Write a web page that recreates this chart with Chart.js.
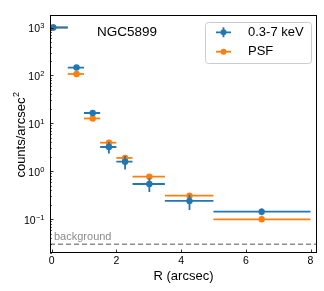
<!DOCTYPE html>
<html>
<head>
<meta charset="utf-8">
<script src="https://cdn.jsdelivr.net/npm/chart.js@4.4.0/dist/chart.umd.min.js"></script>
<style>
html, body { margin: 0; padding: 0; background: #ffffff; }
#wrap { width: 324px; height: 291px; }
</style>
</head>
<body>
<div id="wrap"><canvas id="profileChart"></canvas></div>
<script>
// Radial surface brightness profile, NGC5899

// bins (arcsec)
const radius = [0.05, 0.77, 1.27, 1.77, 2.27, 3.02, 4.26, 6.49];
const binLo = [0, 0.5, 1.0, 1.5, 2.0, 2.5, 3.5, 5.0];
const binHi = [0.5, 1.0, 1.5, 2.0, 2.5, 3.5, 5.0, 8.0];

// counts/arcsec^2
const counts = [1000, 146, 16.4, 3.2, 1.58, 0.54, 0.239, 0.143];
const countsErr = [30, 8, 1.8, 0.85, 0.5, 0.17, 0.084, 0.023];
const psf = [1000, 107, 12.6, 3.94, 1.89, 0.77, 0.308, 0.099];
const background = 0.03;

const seriesNames = ['0.3-7 keV', 'PSF'];
const xTicks = [0, 2, 4, 6, 8];
const yMajor = [0.1, 1, 10, 100, 1000];
const yExp = ['\u22121', '0', '1', '2', '3'];

const FONT = "'Liberation Sans', Arial, Helvetica, sans-serif";
const COLORS = {
    blue: '#1f77b4',
    orange: '#ff7f0e',
    grey: '#8c8c8c'
};

const X_MIN = -0.05, X_MAX = 8.2;
const Y_MIN = 0.0196, Y_MAX = 1824;

// minor log ticks 2..9 x 10^k inside the range
const yMinor = [];
[0.01, 0.1, 1, 10, 100, 1000].forEach(d => {
    for (let m = 2; m <= 9; m++) {
        const v = m * d;
        if (v > Y_MIN && v < Y_MAX) yMinor.push(v);
    }
});

// error bars, drawn under each dataset's markers
const errorBarPlugin = {
    id: 'errorBars',
    beforeDatasetDraw(chart, args) {
        const ds = chart.data.datasets[args.index];
        if (!ds.errX) return;
        const xs = chart.scales.x, ys = chart.scales.y, ctx = chart.ctx;
        const area = chart.chartArea;
        ctx.save();
        ctx.beginPath();
        ctx.rect(area.left, area.top, area.right - area.left, area.bottom - area.top);
        ctx.clip();
        ctx.strokeStyle = ds.backgroundColor;
        ctx.lineWidth = 1.8;
        ds.data.forEach((p, i) => {
            const py = ys.getPixelForValue(p.y);
            ctx.beginPath();
            ctx.moveTo(xs.getPixelForValue(ds.errX[i][0]), py);
            ctx.lineTo(xs.getPixelForValue(ds.errX[i][1]), py);
            if (ds.errY) {
                const px = xs.getPixelForValue(p.x);
                ctx.moveTo(px, ys.getPixelForValue(p.y - ds.errY[i]));
                ctx.lineTo(px, ys.getPixelForValue(p.y + ds.errY[i]));
            }
            ctx.stroke();
        });
        ctx.restore();
    }
};

// frame, inward ticks, tick labels, axis titles, legend, annotations
const decorPlugin = {
    id: 'decor',
    afterDraw(chart) {
        const ctx = chart.ctx;
        const a = chart.chartArea;
        const xs = chart.scales.x, ys = chart.scales.y;
        ctx.save();

        // frame
        ctx.strokeStyle = '#000000';
        ctx.lineWidth = 1;
        ctx.strokeRect(Math.round(a.left) + 0.5, Math.round(a.top) + 0.5,
            Math.round(a.right - a.left) - 1, Math.round(a.bottom - a.top) - 1);

        // ticks pointing in
        ctx.lineWidth = 0.8;
        ctx.beginPath();
        xTicks.forEach(v => {
            const px = Math.round(xs.getPixelForValue(v)) + 0.5;
            ctx.moveTo(px, a.bottom);
            ctx.lineTo(px, a.bottom - 3.5);
        });
        yMajor.forEach(v => {
            const py = Math.round(ys.getPixelForValue(v)) + 0.5;
            ctx.moveTo(a.left, py);
            ctx.lineTo(a.left + 3.5, py);
        });
        ctx.stroke();
        ctx.lineWidth = 0.6;
        ctx.beginPath();
        yMinor.forEach(v => {
            const py = Math.round(ys.getPixelForValue(v)) + 0.5;
            ctx.moveTo(a.left, py);
            ctx.lineTo(a.left + 2, py);
        });
        ctx.stroke();

        // x tick labels
        ctx.fillStyle = '#000000';
        ctx.font = '10.5px ' + FONT;
        ctx.textAlign = 'center';
        ctx.textBaseline = 'alphabetic';
        xTicks.forEach(v => {
            ctx.fillText(String(v), xs.getPixelForValue(v), 264);
        });

        // y tick labels 10^n
        const right = 44.5;
        yMajor.forEach((v, i) => {
            const py = ys.getPixelForValue(v);
            ctx.font = '7.5px ' + FONT;
            ctx.textAlign = 'right';
            const ew = ctx.measureText(yExp[i]).width;
            ctx.fillText(yExp[i], right, py + 0.5);
            ctx.font = '10.5px ' + FONT;
            ctx.fillText('10', right - ew - 0.3, py + 4.8);
        });

        // axis titles
        ctx.font = '13px ' + FONT;
        ctx.textAlign = 'center';
        ctx.fillText('R (arcsec)', (a.left + a.right) / 2, 280);

        ctx.save();
        ctx.translate(25, (a.top + a.bottom) / 2 + 1);
        ctx.rotate(-Math.PI / 2);
        ctx.textAlign = 'left';
        ctx.font = '13px ' + FONT;
        const main = 'counts/arcsec';
        const mw = ctx.measureText(main).width;
        ctx.font = '9px ' + FONT;
        const sw = ctx.measureText('2').width;
        const x0 = -(mw + sw) / 2;
        ctx.font = '13px ' + FONT;
        ctx.fillText(main, x0, 0);
        ctx.font = '9px ' + FONT;
        ctx.fillText('2', x0 + mw + 0.5, -6);
        ctx.restore();

        // object name
        ctx.font = '13.5px ' + FONT;
        ctx.textAlign = 'left';
        ctx.textBaseline = 'middle';
        ctx.fillText('NGC5899', 97, 32);

        // background label
        ctx.fillStyle = COLORS.grey;
        ctx.font = '11px ' + FONT;
        ctx.textBaseline = 'alphabetic';
        ctx.fillText('background', 54, 240);

        // legend
        const bx = 205, by = 22, bw = 106, bh = 41;
        ctx.beginPath();
        ctx.roundRect(bx + 0.5, by + 0.5, bw, bh, 3);
        ctx.fillStyle = 'rgba(255,255,255,0.8)';
        ctx.fill();
        ctx.strokeStyle = '#cccccc';
        ctx.lineWidth = 1;
        ctx.stroke();

        const rows = [32.3, 51.7];
        const cols = [COLORS.blue, COLORS.orange];
        rows.forEach((ry, i) => {
            ctx.strokeStyle = cols[i];
            ctx.fillStyle = cols[i];
            ctx.lineWidth = 1.8;
            ctx.beginPath();
            ctx.moveTo(216, ry);
            ctx.lineTo(231, ry);
            if (i === 0) {
                ctx.moveTo(223.5, ry - 5);
                ctx.lineTo(223.5, ry + 5);
            }
            ctx.stroke();
            ctx.beginPath();
            ctx.arc(223.5, ry, 3, 0, Math.PI * 2);
            ctx.fill();
            ctx.fillStyle = '#000000';
            ctx.font = '13px ' + FONT;
            ctx.textBaseline = 'middle';
            ctx.fillText(seriesNames[i], 248, ry);
        });

        ctx.restore();
    }
};

function initProfileChart() {
    const el = document.getElementById('profileChart');
    new Chart(el, {
        type: 'scatter',
        data: {
            datasets: [
                {
                    label: seriesNames[0],
                    data: radius.map((r, i) => ({ x: r, y: counts[i] })),
                    errX: binLo.map((lo, i) => [lo, binHi[i]]),
                    errY: countsErr,
                    backgroundColor: COLORS.blue,
                    borderColor: COLORS.blue,
                    pointRadius: 3.2,
                    pointBorderWidth: 0,
                    showLine: false
                },
                {
                    label: seriesNames[1],
                    data: radius.map((r, i) => ({ x: r, y: psf[i] })),
                    errX: binLo.map((lo, i) => [lo, binHi[i]]),
                    backgroundColor: COLORS.orange,
                    borderColor: COLORS.orange,
                    pointRadius: 3.2,
                    pointBorderWidth: 0,
                    showLine: false
                },
                {
                    label: 'background',
                    type: 'line',
                    data: [{ x: X_MIN, y: background }, { x: X_MAX, y: background }],
                    borderColor: COLORS.grey,
                    borderWidth: 1.5,
                    borderDash: [5, 3],
                    pointRadius: 0,
                    fill: false
                }
            ]
        },
        options: {
            responsive: true,
            maintainAspectRatio: false,
            animation: false,
            events: [],
            layout: { padding: { top: 15, right: 7, left: 0, bottom: 0 } },
            plugins: {
                legend: { display: false },
                tooltip: { enabled: false }
            },
            scales: {
                x: {
                    type: 'linear',
                    min: X_MIN,
                    max: X_MAX,
                    grid: { display: false },
                    border: { display: false },
                    ticks: { display: false },
                    afterBuildTicks: s => { s.ticks = xTicks.map(v => ({ value: v })); },
                    afterFit: s => { s.height = 38; }
                },
                y: {
                    type: 'logarithmic',
                    min: Y_MIN,
                    max: Y_MAX,
                    grid: { display: false },
                    border: { display: false },
                    ticks: { display: false },
                    afterBuildTicks: s => { s.ticks = yMajor.map(v => ({ value: v, major: true })); },
                    afterFit: s => { s.width = 50; }
                }
            }
        },
        plugins: [errorBarPlugin, decorPlugin]
    });
}

if (document.readyState === 'loading') {
    document.addEventListener('DOMContentLoaded', initProfileChart);
} else {
    initProfileChart();
}
</script>
</body>
</html>
